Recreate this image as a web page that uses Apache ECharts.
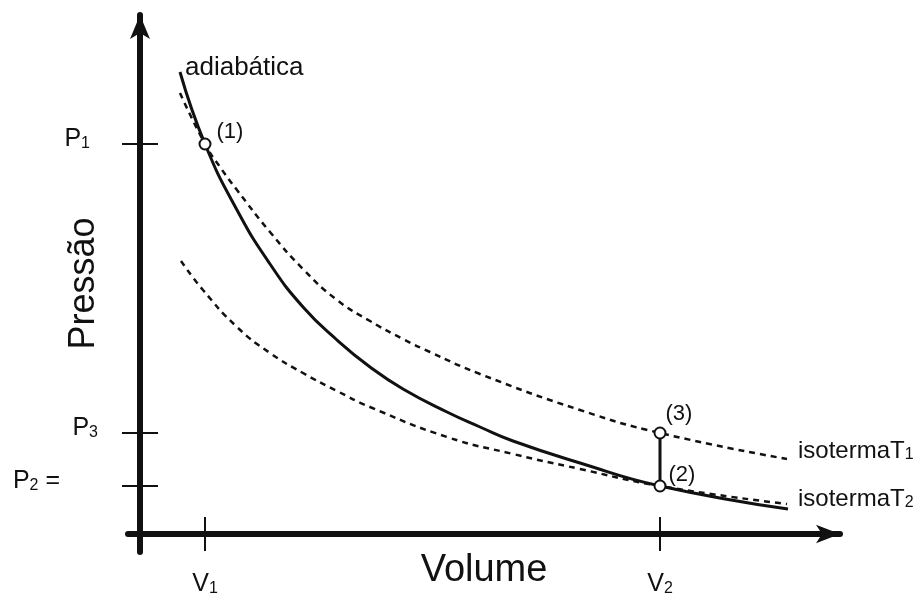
<!DOCTYPE html>
<html>
<head>
<meta charset="utf-8">
<script src="https://cdn.jsdelivr.net/npm/echarts@6/dist/echarts.min.js"></script>
<style>
    html, body { margin: 0; padding: 0; background: #fff; }
    #chart { width: 921px; height: 593px; }
</style>
</head>
<body>
<div id="chart"></div>
<script>
/* ========== 数据：diagrama P x V ========== */

// [volume, pressão] (unidades arbitrárias)
const adiabatica = [[4.0, 46.2], [6.5, 39.0], [9.7, 32.4], [13.0, 27.0], [16.3, 22.7], [19.7, 19.4], [23.0, 16.7],
    [26.3, 14.5], [30.7, 12.2], [34.0, 10.7], [37.3, 9.3], [44.0, 7.1], [52.0, 4.8], [64.8, 2.5]];
const isotermaT1 = [[4.0, 44.1], [6.5, 39.0], [8.0, 36.7], [9.7, 34.4], [13.0, 30.2], [16.3, 26.5], [19.7, 23.4],
    [23.0, 21.3], [26.3, 19.5], [29.0, 18.2], [34.0, 16.0], [44.0, 12.4], [52.0, 10.1], [64.7, 7.5]];
const isotermaT2 = [[4.1, 27.3], [6.3, 24.4], [9.7, 20.7], [13.0, 18.1], [16.3, 16.1], [19.7, 14.3], [23.0, 12.7],
    [30.7, 9.7], [37.3, 8.0], [44.0, 6.5], [52.0, 4.8], [64.7, 3.0]];

const estados = [[6.5, 39.0], [52.0, 4.8], [52.0, 10.1]];
const estadoNomes = ["(1)", "(2)", "(3)"];

const vTicks = [6.5, 52.0];
const vNomes = ["1", "2"];
const pTicks = [4.8, 10.1, 39.0];
const pNomes = ["2", "3", "1"];

const FONT = "'Liberation Sans', Arial, sans-serif";
const INK = "#111";

const subRich = {
    s: { fontSize: 16, fontFamily: FONT, color: INK, verticalAlign: "bottom" },
    s1: { fontSize: 16, fontFamily: FONT, color: INK, verticalAlign: "bottom", padding: [0, 8, 0, 0] },
    eq: { fontSize: 25, fontFamily: FONT, color: INK, verticalAlign: "bottom", padding: [0, 38, 0, 0] },
};

function pLabel(val) {
    const i = pTicks.indexOf(val);
    if (i < 0) return "";
    const n = pNomes[i];
    if (n === "2") return `P{s|${n}}{eq| =}`;
    if (n === "1") return `P{s1|${n}}`;
    return `P{s|${n}}`;
}

function vLabel(val) {
    const i = vTicks.indexOf(val);
    return i < 0 ? "" : `V{s|${vNomes[i]}}`;
}

const tickStyle = { color: INK, width: 2 };
const dashed = { color: INK, width: 2.5, type: [6, 5] };

const chart = echarts.init(document.getElementById("chart"));
chart.setOption({
    animation: false,
    backgroundColor: "#fff",
    textStyle: { fontFamily: FONT, color: INK },
    grid: { left: 128, right: 81, top: 15, bottom: 41, containLabel: false, outerBoundsMode: "none" },
    xAxis: [
        {
            type: "value", min: -1.2, max: 70, position: "bottom",
            axisLine: { onZero: true, lineStyle: { color: INK, width: 6 }, symbol: ["none", "arrow"], symbolSize: [14, 24] },
            axisTick: { show: true, customValues: vTicks, length: 17, lineStyle: tickStyle },
            axisLabel: { customValues: vTicks, formatter: vLabel, margin: 20, fontSize: 25, color: INK, rich: subRich },
            splitLine: { show: false },
            name: "Volume", nameLocation: "middle", nameGap: 0, nameMoveOverlap: false,
            nameTextStyle: { fontSize: 38, color: INK, fontFamily: FONT },
        },
        {
            type: "value", min: -1.2, max: 70, position: "bottom",
            axisLine: { show: false, onZero: true },
            axisTick: { show: true, inside: true, customValues: vTicks, length: 17, lineStyle: tickStyle },
            axisLabel: { show: false },
            splitLine: { show: false },
        },
    ],
    yAxis: [
        {
            type: "value", min: -1.8, max: 51.9, position: "left",
            axisLine: { onZero: true, lineStyle: { color: INK, width: 6 }, symbol: ["none", "arrow"], symbolSize: [15, 24] },
            axisTick: { show: true, customValues: pTicks, length: 18, lineStyle: tickStyle },
            axisLabel: { customValues: pTicks, formatter: pLabel, margin: 30, fontSize: 25, color: INK, padding: [0, 0, 10, 0], rich: subRich },
            splitLine: { show: false },
            name: "Pressão", nameLocation: "middle", nameGap: 26, nameMoveOverlap: false,
            nameTextStyle: { fontSize: 36, color: INK, fontFamily: FONT },
        },
        {
            type: "value", min: -1.8, max: 51.9, position: "left",
            axisLine: { show: false, onZero: true },
            axisTick: { show: true, inside: true, customValues: pTicks, length: 18, lineStyle: tickStyle },
            axisLabel: { show: false },
            splitLine: { show: false },
        },
    ],
    series: [
        {
            name: "adiabática", type: "line", smooth: 0.5,
            showSymbol: true, symbolSize: 0,
            lineStyle: { color: INK, width: 3 },
            label: { show: false },
            data: adiabatica.map((p, i) => i === 0
                ? { value: p, label: { show: true, position: "right", formatter: "adiabática", fontSize: 26, color: INK, offset: [0, -4] } }
                : p),
            z: 3,
        },
        {
            name: "isotermaT1", type: "line", smooth: 0.5, showSymbol: false,
            lineStyle: dashed,
            endLabel: { show: true, formatter: "isotermaT{s|1}", fontSize: 24, color: INK, offset: [3, -8], rich: subRich },
            data: isotermaT1,
            z: 2,
        },
        {
            name: "isotermaT2", type: "line", smooth: 0.5, showSymbol: false,
            lineStyle: dashed,
            endLabel: { show: true, formatter: "isotermaT{s|2}", fontSize: 24, color: INK, offset: [3, -5], rich: subRich },
            data: isotermaT2,
            z: 2,
        },
        {
            name: "2-3", type: "line", showSymbol: false,
            lineStyle: { color: INK, width: 3 },
            data: [estados[2], estados[1]],
            z: 3,
        },
        {
            name: "estados", type: "scatter", symbol: "circle", symbolSize: 11,
            itemStyle: { color: "#fff", borderColor: INK, borderWidth: 2, opacity: 1 },
            label: { show: true, position: "right", fontSize: 22, color: INK },
            data: estados.map((p, i) => ({
                value: p,
                label: { formatter: estadoNomes[i], offset: [[0, -12], [-3, -11], [-6, -19]][i] },
            })),
            z: 5,
        },
    ],
});
</script>
</body>
</html>
